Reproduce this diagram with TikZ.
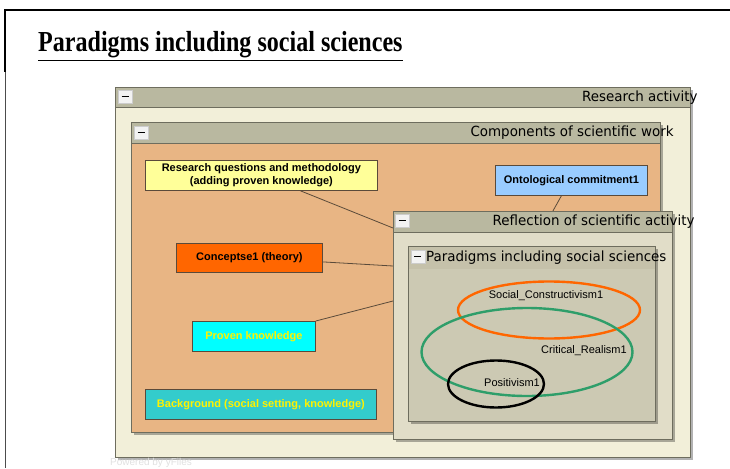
\documentclass[tikz,border=0pt]{standalone}
\usepackage{fontspec}
\setmainfont{Liberation Serif}
\setsansfont{Liberation Sans}
\newfontfamily\headfont{DejaVu Sans}
\usetikzlibrary{positioning,shapes.geometric,shadows}
\definecolor{GroupEdge}{HTML}{6E6D5E}
\definecolor{GroupHead}{HTML}{B9B8A0}
\definecolor{ResCream}{HTML}{F2EFD9}
\definecolor{CompTan}{HTML}{E8B584}
\definecolor{ReflGrey}{HTML}{E1DDC8}
\definecolor{ParaGrey}{HTML}{CCC9B3}
\definecolor{ParaHead}{HTML}{C5C1AA}
\definecolor{LinkBrown}{HTML}{5A4A3A}
\definecolor{NoteYellow}{HTML}{FFFF99}
\definecolor{NoteBlue}{HTML}{99CCFF}
\definecolor{NoteOrange}{HTML}{FF6600}
\definecolor{NoteCyan}{HTML}{00FFFF}
\definecolor{NoteTeal}{HTML}{33CCCC}
\definecolor{ParaGreen}{HTML}{2E9E6A}

\begin{document}
\begin{tikzpicture}[x=1pt, y=-1pt,
  group/.style={draw=GroupEdge, line width=.8pt, anchor=north west, inner sep=0pt,
    drop shadow={shadow xshift=3pt, shadow yshift=-3pt, fill=black, opacity=.3}},
  grouphead/.style={draw=GroupEdge, line width=.8pt, fill=GroupHead, anchor=north west, inner sep=0pt},
  grouplabel/.style={font=\headfont\fontsize{14}{16}\selectfont, xscale=.96, inner sep=0pt},
  minus/.style={draw=gray!40, fill=gray!10, anchor=north west, minimum width=14, minimum height=13, inner sep=0pt,
    path picture={\draw[black, line width=1.3pt] ([xshift=-3.5pt]path picture bounding box.center) -- ([xshift=3.5pt]path picture bounding box.center);}},
  note/.style={draw=LinkBrown, line width=.8pt, anchor=north west, inner sep=0pt, align=center,
    font=\sffamily\bfseries\fontsize{11}{12.5}\selectfont},
  paradigm/.style={ellipse, line width=2.4pt, inner sep=0pt},
  paralabel/.style={font=\sffamily\fontsize{11}{12}\selectfont, inner sep=0pt},
  link/.style={draw=LinkBrown, line width=.8pt}
]
  \useasboundingbox (0,0) rectangle (730,468);

  % page frame and heading
  \draw[line width=2pt] (5,72) -- (5,10) -- (730,10);
  \draw[line width=1pt, black!70] (5,72) -- (5,468);
  \node[anchor=base west, inner sep=0pt, xscale=.83,
    font=\bfseries\fontsize{29}{32}\selectfont] (title) at (38,52) {\underline{Paradigms including social sciences}};

  % nested groups
  \node[group, fill=ResCream, minimum width=575, minimum height=370] (research) at (115,87) {};
  \node[grouphead, minimum width=575, minimum height=20] (researchhead) at (research.north west) {};
  \node[minus] at ([xshift=3pt, yshift=-3pt]researchhead.north west) {};
  \node[grouplabel, anchor=east] at ([xshift=7pt]researchhead.east) {Research activity};

  \node[group, fill=CompTan, minimum width=529, minimum height=310] (components) at (131,122) {};
  \node[grouphead, minimum width=529, minimum height=21] (componentshead) at (components.north west) {};
  \node[minus] at ([xshift=3pt, yshift=-4pt]componentshead.north west) {};
  \node[grouplabel, anchor=east] at ([xshift=13pt]componentshead.east) {Components of scientific work};

  % notes
  \node[note, fill=NoteYellow, minimum width=232, minimum height=30] (questions) at (145,160)
    {Research questions and methodology\\(adding proven knowledge)};
  \node[note, fill=NoteBlue, minimum width=152, minimum height=30] (ontology) at (495,165)
    {Ontological commitment1};
  \node[note, fill=NoteOrange, minimum width=146, minimum height=29] (concepts) at (176,243)
    {Conceptse1 (theory)};
  \node[note, fill=NoteCyan, text=yellow, minimum width=123, minimum height=30] (proven) at (192,321)
    {Proven knowledge};
  \node[note, fill=NoteTeal, text=yellow, minimum width=231, minimum height=30] (background) at (145,389)
    {Background (social setting, knowledge)};

  \node[group, fill=ReflGrey, minimum width=279, minimum height=228] (reflection) at (393,211) {};
  \node[grouphead, minimum width=279, minimum height=21] (reflectionhead) at (reflection.north west) {};
  \node[minus] at ([xshift=2pt, yshift=-3pt]reflectionhead.north west) {};
  \node[grouplabel, anchor=east] at ([xshift=22pt]reflectionhead.east) {Reflection of scientific activity};

  \draw[link] ([xshift=39pt]questions.south) -- ([yshift=-17pt]reflection.north west);
  \draw[link] ([xshift=-10pt]ontology.south) -- ([xshift=20pt]reflection.north);
  \draw[link] ([yshift=-4pt]concepts.east) -- ([yshift=-55pt]reflection.north west);
  \draw[link] (proven.north east) -- ([yshift=-90pt]reflection.north west);

  \node[group, fill=ParaGrey, minimum width=247, minimum height=175] (paradigms) at (408,246) {};
  \node[grouphead, draw=none, fill=ParaHead, minimum width=246, minimum height=22] (paradigmshead)
    at ([xshift=.5pt, yshift=-.5pt]paradigms.north west) {};
  \node[minus] (paradigmsminus) at ([xshift=2pt, yshift=-3pt]paradigmshead.north west) {};
  \node[grouplabel, anchor=west] at ([xshift=1pt, yshift=-1pt]paradigmsminus.east) {Paradigms including social sciences};

  % paradigm sets
  \node[paradigm, draw=NoteOrange, minimum width=182, minimum height=57] (constructivism) at (549,310) {};
  \node[paradigm, draw=ParaGreen, minimum width=211, minimum height=88] (realism) at (527,352) {};
  \node[paradigm, draw=black, minimum width=96, minimum height=47] (positivism) at (496,384) {};
  \node[paralabel] at (546,296) {Social\_Constructivism1};
  \node[paralabel] at (584,351) {Critical\_Realism1};
  \node[paralabel] at (512,383) {Positivism1};

  \node[anchor=base west, inner sep=0pt, text=black!12, font=\sffamily\fontsize{10}{12}\selectfont]
    (poweredby) at (110,465) {Powered by yFiles};
\end{tikzpicture}
\end{document}
